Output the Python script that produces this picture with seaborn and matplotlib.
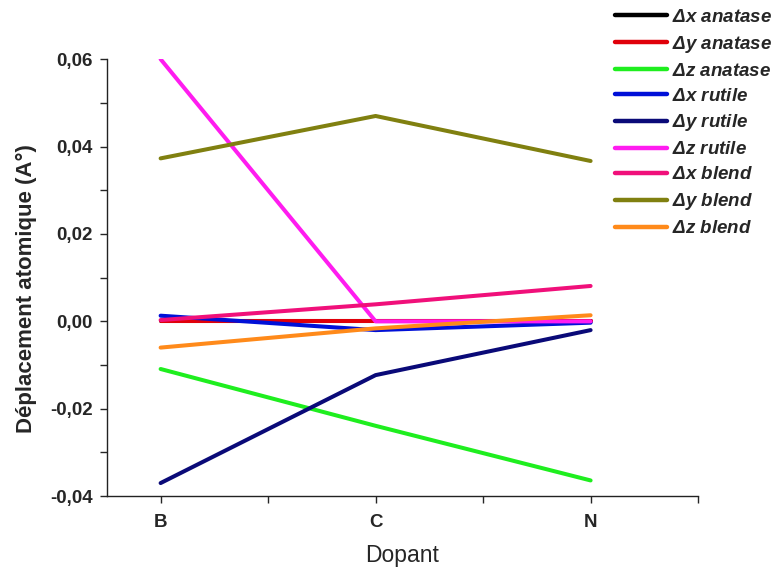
import numpy as np
import pandas as pd
import matplotlib
matplotlib.use("Agg")
import matplotlib.pyplot as plt
import matplotlib.ticker as mticker
import seaborn as sns

# Data
dopants = ["B", "C", "N"]
series_names = [r"$\Delta$x anatase", r"$\Delta$y anatase", r"$\Delta$z anatase",
                r"$\Delta$x rutile", r"$\Delta$y rutile", r"$\Delta$z rutile",
                r"$\Delta$x blend", r"$\Delta$y blend", r"$\Delta$z blend"]
dx_anatase = [0.0, 0.0, 0.0]
dy_anatase = [0.0, 0.0, 0.0]
dz_anatase = [-0.0109, -0.0239, -0.0364]
dx_rutile = [0.0013, -0.0020, -0.0003]
dy_rutile = [-0.0370, -0.0123, -0.0020]
dz_rutile = [0.0600, 0.0, 0.0]
dx_blend = [0.0003, 0.0039, 0.0081]
dy_blend = [0.0373, 0.0470, 0.0367]
dz_blend = [-0.0060, -0.0016, 0.0014]
colors = ["#000000", "#e0000a", "#1fee1f", "#0010d8", "#0a0a78",
          "#ff1cf0", "#f0107a", "#808010", "#ff8a1a"]

values = [dx_anatase, dy_anatase, dz_anatase, dx_rutile, dy_rutile,
          dz_rutile, dx_blend, dy_blend, dz_blend]

df = pd.DataFrame({
    "Dopant": dopants * len(series_names),
    "val": np.concatenate(values),
    "serie": np.repeat(series_names, len(dopants)),
})

sns.set_style("ticks")
plt.rcParams["font.family"] = ["Liberation Sans", "DejaVu Sans"]
plt.rcParams["mathtext.fontset"] = "custom"
plt.rcParams["mathtext.it"] = "Liberation Sans:bold:italic"
plt.rcParams["mathtext.rm"] = "Liberation Sans:bold:italic"

fig = plt.figure(figsize=(7.8, 5.69), dpi=100, facecolor='w')
ax = fig.add_axes([0.137, 0.128, 0.758, 0.768])

sns.lineplot(data=df, x="Dopant", y="val", hue="serie", palette=colors,
             hue_order=series_names, linewidth=2.9, ax=ax, sort=False)

ax.set_xlim(-0.25, 2.5)
ax.set_ylim(-0.04, 0.06)
ax.yaxis.set_major_locator(mticker.MultipleLocator(0.02))
ax.yaxis.set_minor_locator(mticker.MultipleLocator(0.01))
ax.xaxis.set_minor_locator(mticker.FixedLocator([0.5, 1.5, 2.5]))
ax.yaxis.set_major_formatter(mticker.FuncFormatter(
    lambda v, p: f"{v:.2f}".replace(".", ",").replace("-0,00", "0,00")))
ax.tick_params(axis='both', which='major', direction='out', length=5, width=1,
               labelsize=13.5, pad=5)
ax.tick_params(axis='x', which='major', pad=8)
ax.tick_params(axis='both', which='minor', direction='out', length=5, width=1)
for lbl in ax.get_xticklabels() + ax.get_yticklabels():
    lbl.set_fontweight('bold')
sns.despine(ax=ax)
for sp in ["left", "bottom"]:
    ax.spines[sp].set_linewidth(1)
    ax.spines[sp].set_color("#222222")

ax.set_xlabel("Dopant", fontsize=16.5, labelpad=9)
ax.set_ylabel("Déplacement atomique (A°)", fontsize=16, fontweight='bold')
ax.yaxis.set_label_coords(-0.118, 0.474)

leg = ax.legend(loc="upper left", bbox_to_anchor=(0.788, 0.985), bbox_transform=fig.transFigure,
                frameon=False, handlelength=2.8, handletextpad=0.25, labelspacing=0.42,
                borderpad=0, borderaxespad=0,
                prop={'size': 13.5, 'weight': 'bold', 'style': 'italic'})
for line in leg.get_lines():
    line.set_linewidth(3.2)

plt.savefig("out.png", dpi=100, facecolor='w')
plt.close("all")
